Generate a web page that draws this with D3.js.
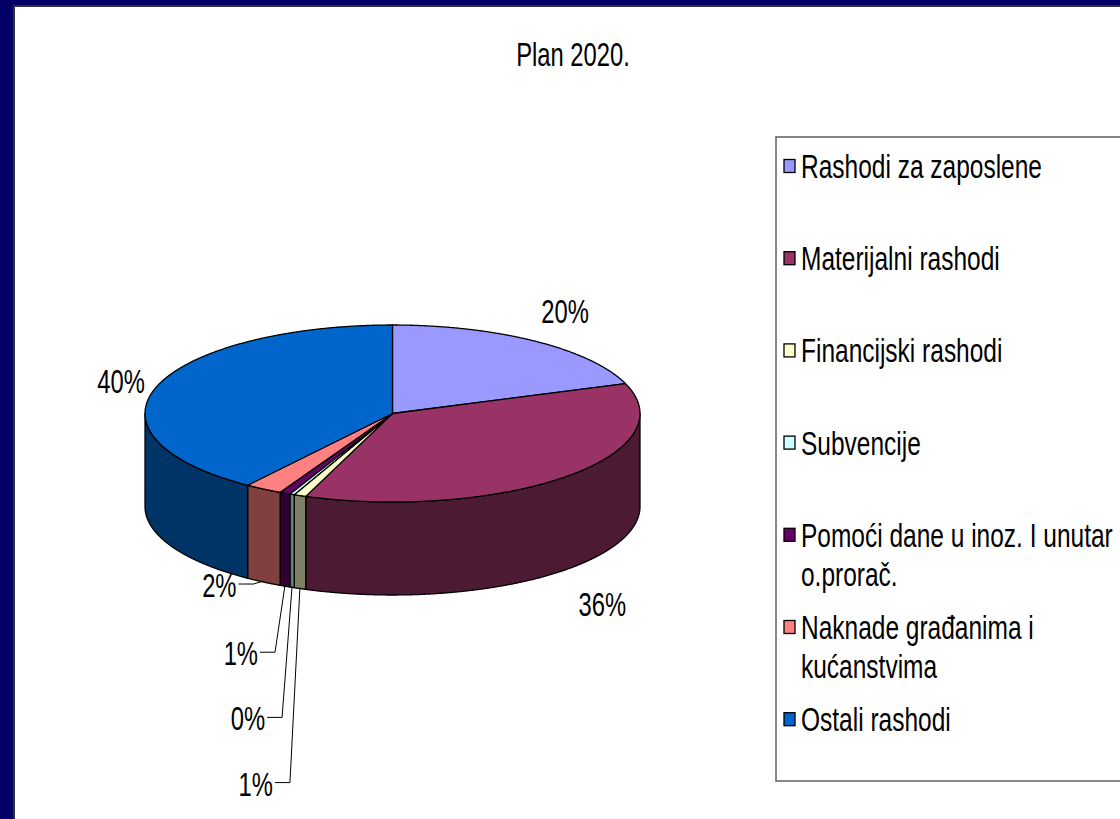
<!DOCTYPE html>
<html>
<head>
<meta charset="utf-8">
<script src="https://cdn.jsdelivr.net/npm/d3@7"></script>
<style>
html,body{margin:0;padding:0;background:#000066;overflow:hidden;}
svg{display:block;}
</style>
</head>
<body>
<svg id="chart" width="1120" height="819"></svg>
<script>
// ---- data ----
const title = "Plan 2020.";
const categories = [
  "Rashodi za zaposlene",
  "Materijalni rashodi",
  "Financijski rashodi",
  "Subvencije",
  "Pomoći dane u inoz. I unutar o.prorač.",
  "Naknade građanima i kućanstvima",
  "Ostali rashodi"
];
const values = [19.5, 36.2, 0.8, 0.3, 0.7, 2.45, 40.05];
const valueLabels = ["20%", "36%", "1%", "0%", "1%", "2%", "40%"];
const topColors = ["#9999FF", "#993366", "#FFFFCC", "#CCFFFF", "#660066", "#FF8080", "#0066CC"];

// ---- font detection ----
function hasFont(name){
  const c = document.createElement("canvas").getContext("2d");
  const s = "Rashodi za zaposlene 2020";
  c.font = "40px monospace"; const w0 = c.measureText(s).width;
  c.font = `40px "${name}", monospace`; const w1 = c.measureText(s).width;
  return Math.abs(w0 - w1) > 0.5;
}
const narrow = hasFont("Liberation Sans Narrow");
const FONT = narrow ? '"Liberation Sans Narrow", "Arial Narrow", sans-serif' : '"Liberation Sans", Arial, sans-serif';
const SX = narrow ? 1 : 0.82;
const SY = 1.15;
const FS = 29;

const svg = d3.select("#chart");
const W = 1120, H = 819;

// frame
svg.append("rect").attr("x",0).attr("y",0).attr("width",W).attr("height",H).attr("fill","#000066");
svg.append("rect").attr("x",13).attr("y",5).attr("width",W).attr("height",H).attr("fill","#333333");
svg.append("rect").attr("x",15).attr("y",7).attr("width",W).attr("height",H).attr("fill","#ffffff");

function addText(g, str, x, y, anchor, kx){
  return g.append("text")
    .attr("transform", `translate(${x},${y}) scale(${SX*(kx||1)},${SY})`)
    .attr("font-family", FONT).attr("font-size", FS)
    .attr("fill", "#000").attr("text-anchor", anchor || "start")
    .text(str);
}
const BASE = FS*0.36*SY;

// title
addText(svg, title, 573, 54 + BASE, "middle");

// ---- 3D pie geometry ----
const cx = 392.5, cy = 413.5, rx = 247.5, ry = 88.5, depth = 93;
const P = (a, dy) => [cx + rx*Math.sin(a), cy - ry*Math.cos(a) + (dy||0)];
const pie = d3.pie().sort(null).value(d => d).startAngle(0).endAngle(2*Math.PI);
const arcs = pie(values);
const line = d3.line();
const step = Math.PI/720;
function sample(a0, a1){
  const n = Math.max(2, Math.ceil((a1-a0)/step));
  return d3.range(n+1).map(i => a0 + (a1-a0)*i/n);
}
const pieG = svg.append("g");
const STROKE = 1.3;

// side walls (front half only)
arcs.forEach((d,i) => {
  const lo = Math.max(d.startAngle, Math.PI/2), hi = Math.min(d.endAngle, 3*Math.PI/2);
  if (lo >= hi) return;
  const angs = sample(lo, hi);
  const pts = angs.map(a => P(a)).concat(angs.slice().reverse().map(a => P(a, depth)));
  const c = d3.rgb(topColors[i]);
  const dark = d3.rgb(c.r*0.5, c.g*0.5, c.b*0.5);
  pieG.append("path").attr("d", line(pts) + "Z")
    .attr("fill", dark).attr("stroke", "#000").attr("stroke-width", STROKE).attr("stroke-linejoin","round");
});

// top faces
arcs.forEach((d,i) => {
  const pts = [[cx,cy]].concat(sample(d.startAngle, d.endAngle).map(a => P(a)));
  pieG.append("path").attr("d", line(pts) + "Z")
    .attr("fill", topColors[i]).attr("stroke", "#000").attr("stroke-width", STROKE).attr("stroke-linejoin","round");
});

// ---- data labels ----
const labG = svg.append("g");
const SMALL = 3;
const smallIdx = arcs.map((d,i)=>i).filter(i => values[i] < SMALL)
  .sort((a,b) => arcs[b].startAngle - arcs[a].startAngle);
const bigNudge = {0:[5,6], 1:[5,3], 6:[6,8]};
arcs.forEach((d,i) => {
  const m = (d.startAngle + d.endAngle)/2;
  const front = Math.cos(m) < 0;
  const anc = P(m, front ? depth : 0);
  if (values[i] >= SMALL) {
    const nx = anc[0] + 44*Math.sin(m) + (bigNudge[i]||[0,0])[0];
    const ny = anc[1] - 44*Math.cos(m) + (bigNudge[i]||[0,0])[1];
    addText(labG, valueLabels[i], nx, ny + BASE, "middle");
  } else {
    const k = smallIdx.indexOf(i);
    const right = anc[0] - 27;
    const ly = anc[1] + 3 + 64*k;
    addText(labG, valueLabels[i], right, ly + BASE, "end");
    const ex = right + 17;
    labG.append("path")
      .attr("d", line([[right+2, ly-1],[ex, ly-1],[anc[0], anc[1]-1]]))
      .attr("fill","none").attr("stroke","#000").attr("stroke-width",1);
  }
});

// ---- legend ----
const legG = svg.append("g");
legG.append("rect").attr("x",776).attr("y",137).attr("width",400).attr("height",644)
  .attr("fill","#fff").attr("stroke","#6a6a6a").attr("stroke-width",1.6);
const legX = 784, txtX = 801, legTop = 166, legStep = 92.2, lineH = 39, maxW = 322, LKX = 1.03;
const mctx = document.createElement("canvas").getContext("2d");
mctx.font = `${FS}px ${FONT}`;
function wrap(str){
  const words = str.split(" "); const lines = []; let cur = "";
  words.forEach(w => {
    const t = cur ? cur + " " + w : w;
    if (mctx.measureText(t).width*SX*LKX > maxW && cur) { lines.push(cur); cur = w; } else cur = t;
  });
  if (cur) lines.push(cur);
  return lines;
}
categories.forEach((c,i) => {
  const y = legTop + legStep*i;
  legG.append("rect").attr("x",legX).attr("y",y-6.5).attr("width",11).attr("height",13)
    .attr("fill", topColors[i]).attr("stroke","#000").attr("stroke-width",1.3);
  wrap(c).forEach((ln,j) => addText(legG, ln, txtX, y + j*lineH + BASE, "start", LKX));
});
</script>
</body>
</html>
